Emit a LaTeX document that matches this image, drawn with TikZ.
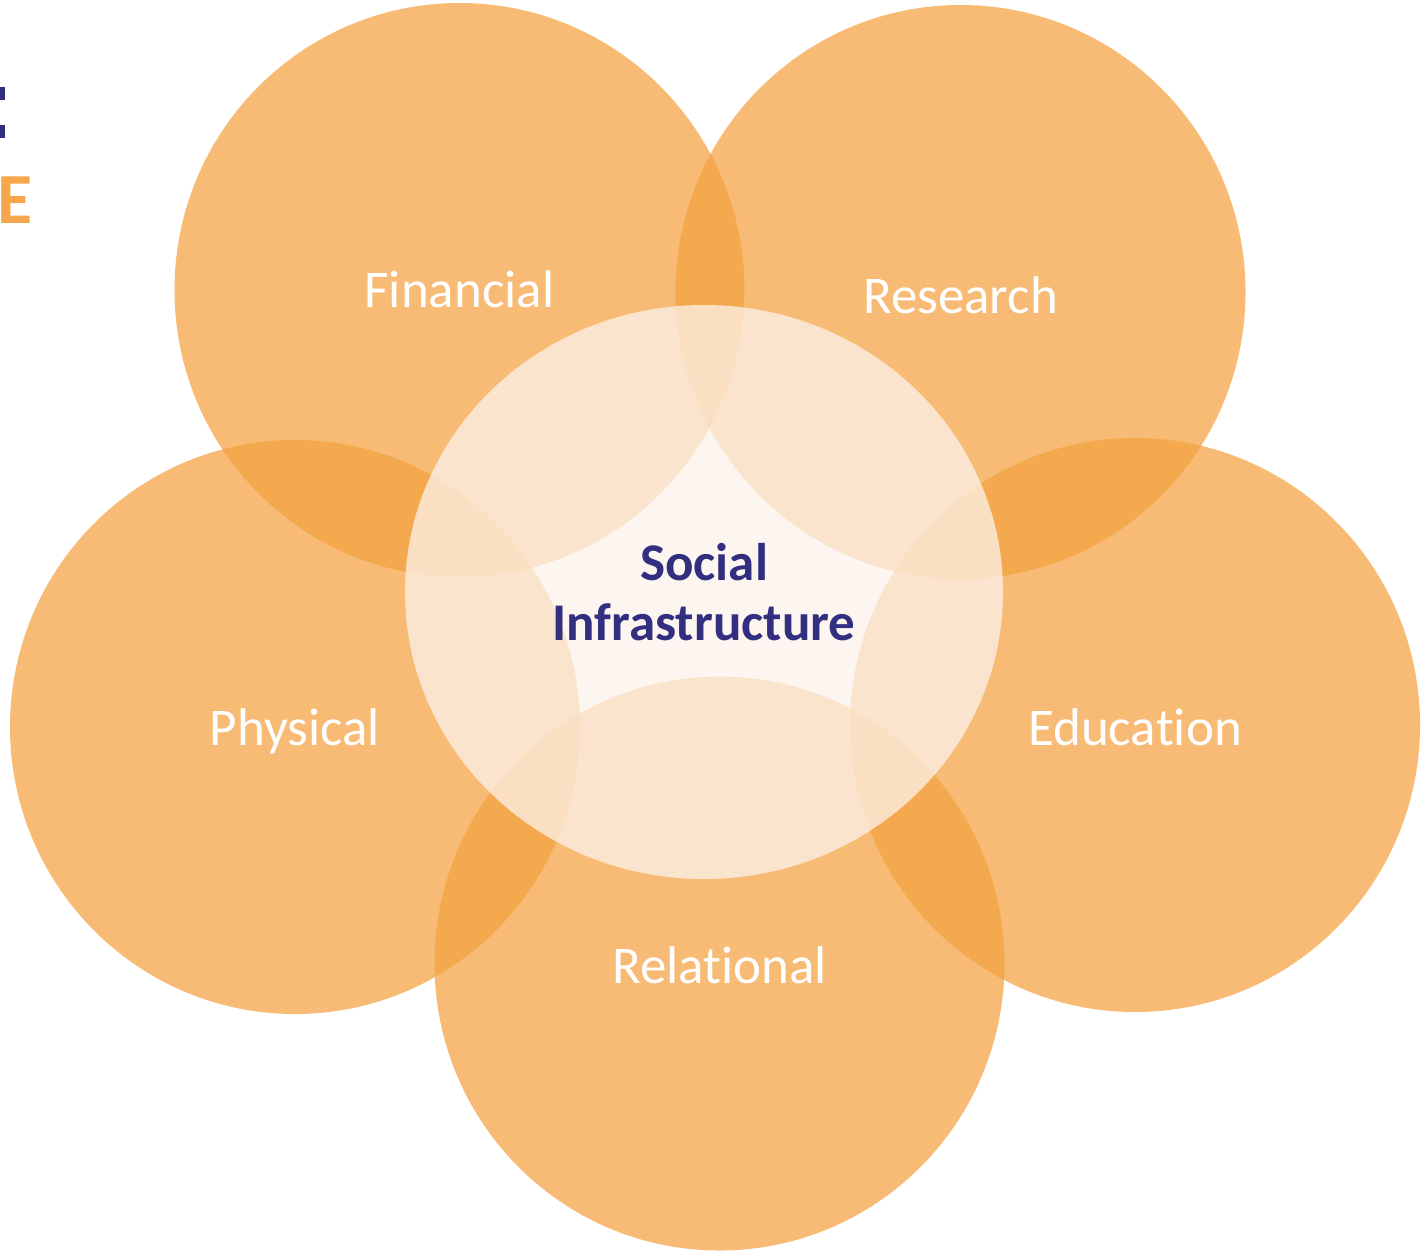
\documentclass[tikz,border=0pt]{standalone}
\usepackage{fontspec}
\setmainfont[Ligatures={NoCommon,NoRare,NoContextual}]{Carlito}
\definecolor{petal}{RGB}{245,163,66}
\definecolor{core}{RGB}{253,243,236}
\definecolor{navy}{RGB}{50,47,128}
\definecolor{titleorange}{RGB}{246,167,75}
\begin{document}
\begin{tikzpicture}[x=1pt,y=-1pt,
  petalshape/.style={fill=petal,fill opacity=0.73,draw=none},
  coreshape/.style={fill=core,fill opacity=0.74,draw=none},
  petallabel/.style={text=white,font=\fontsize{53}{63}\selectfont,anchor=base,inner sep=0pt},
  corelabel/.style={text=navy,font=\bfseries\fontsize{53}{63}\selectfont,anchor=base,inner sep=0pt}]
\useasboundingbox[fill=white] (0,0) rectangle (1423,1253);
% petals
\fill[petalshape] (459.5,290) ellipse [x radius=285,y radius=287];
\fill[petalshape] (960.5,292) ellipse [x radius=285,y radius=287];
\fill[petalshape] (295,727) ellipse [x radius=285,y radius=287];
\fill[petalshape] (1135,725) ellipse [x radius=285,y radius=287];
\fill[petalshape] (719.5,963.5) ellipse [x radius=285,y radius=287];
% core
\fill[coreshape] (704,592) ellipse [x radius=299,y radius=287];
% labels
\node[petallabel] (fin) at (459.5,307) {Financial};
\node[petallabel] (res) at (960.5,313) {Research};
\node[petallabel] (phy) at (295,745) {Physical};
\node[petallabel] (edu) at (1135,745) {Educa\kern0pt tion};
\node[petallabel] (rel) at (719.5,983) {Relational};
\node[corelabel] (soc) at (704,580) {Social};
\node[corelabel] (inf) at (704,640) {Infrastructure};
% clipped title fragments at the left edge
\fill[navy] (0,87) rectangle (5,100);
\fill[navy] (0,125) rectangle (5,138);
\node[text=titleorange,font=\bfseries\fontsize{72}{80}\selectfont,anchor=base west,inner sep=0pt] (ttl) at (-3,223) {E};
\end{tikzpicture}
\end{document}
